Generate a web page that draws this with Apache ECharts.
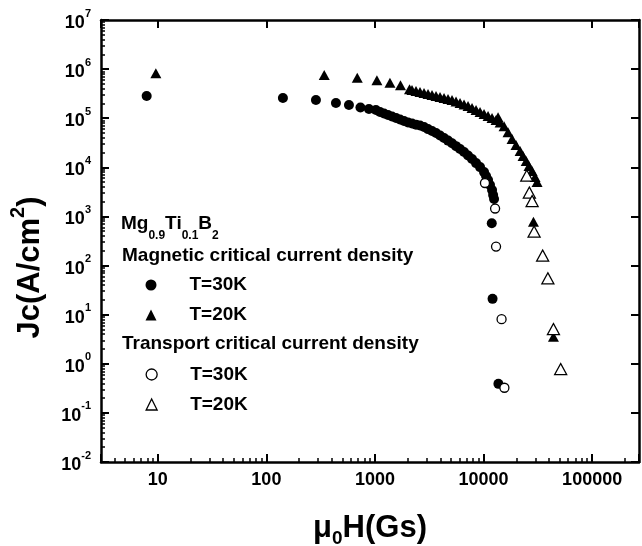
<!DOCTYPE html>
<html lang="en">
<head>
    <meta charset="UTF-8">
    <title>Jc vs field</title>
    <script src="https://cdn.jsdelivr.net/npm/echarts@6/dist/echarts.min.js"></script>
    <style>html,body{margin:0;padding:0;background:#fff;}</style>
</head>
<body>
    <div id="chart" style="width:642px;height:546px;"></div>
    <script type="text/javascript">
        var FONT = 'Liberation Sans, Arial, sans-serif';

        // axis ranges (Gs, A/cm2)
        var xRange = [3, 270000];
        var yRange = [0.01, 1e7];

        // magnetic Jc, T=30K (filled circles)
        var mag30K = [
            [7.9, 2.83e5], [142, 2.58e5], [286, 2.35e5], [437, 2.04e5], [576, 1.86e5],
            [735, 1.65e5], [880, 1.54e5], [1020, 1.47e5], [1112, 1.34e5], [1211, 1.25e5],
            [1318, 1.16e5], [1435, 1.08e5], [1563, 1.01e5], [1700, 9.4e4], [1850, 8.8e4],
            [2014, 8.2e4], [2193, 7.8e4], [2387, 7.4e4], [2598, 7.1e4], [2830, 6.6e4],
            [3080, 6.0e4], [3353, 5.5e4], [3650, 5.0e4], [3973, 4.45e4], [4325, 3.95e4],
            [4707, 3.5e4], [5124, 3.1e4], [5578, 2.7e4], [6072, 2.36e4], [6610, 2.05e4],
            [7195, 1.74e4], [7832, 1.48e4], [8525, 1.22e4], [9280, 1.01e4], [10100, 8000],
            [10540, 6650], [11000, 5500], [11470, 4360], [11970, 3450], [12250, 2730],
            [12490, 2260], [11900, 724], [12100, 21], [13700, 0.39]
        ];

        // magnetic Jc, T=20K (filled triangles)
        var mag20K = [
            [9.6, 8.2e5], [341, 7.6e5], [687, 6.7e5], [1042, 5.9e5], [1374, 5.3e5],
            [1718, 4.7e5], [2080, 3.9e5], [2193, 3.75e5], [2387, 3.58e5], [2598, 3.42e5],
            [2830, 3.26e5], [3080, 3.11e5], [3353, 2.97e5], [3650, 2.83e5], [3973, 2.70e5],
            [4325, 2.58e5], [4707, 2.46e5], [5124, 2.35e5], [5578, 2.19e5], [6072, 2.04e5],
            [6610, 1.90e5], [7195, 1.77e5], [7832, 1.61e5], [8525, 1.47e5], [9280, 1.34e5],
            [10100, 1.22e5], [11000, 1.11e5], [11970, 1.01e5], [13030, 9.2e4], [13600, 1.05e5],
            [14200, 8.2e4], [15450, 6.9e4], [16800, 5.2e4], [18300, 3.77e4], [19900, 2.84e4],
            [21700, 2.15e4], [23100, 1.70e4], [24700, 1.34e4], [26200, 1.06e4], [28000, 8400],
            [29800, 6340], [31100, 5020], [28800, 780], [44000, 3.55]
        ];

        // transport Jc, T=30K (open circles)
        var tr30K = [
            [10300, 4800], [12770, 1450], [13030, 244], [14650, 8.1], [15560, 0.325]
        ];

        // transport Jc, T=20K (open triangles)
        var tr20K = [
            [25000, 6800], [26400, 3070], [28000, 2060], [29200, 492], [35000, 160],
            [39100, 55], [44000, 5.1], [51300, 0.78]
        ];

        var seriesNames = ['Magnetic T=30K', 'Magnetic T=20K', 'Transport T=30K', 'Transport T=20K'];

        function isDecade(v) {
            var e = Math.log(v) / Math.LN10;
            return Math.abs(e - Math.round(e)) < 1e-6;
        }

        var chart = echarts.init(document.getElementById('chart'));

        var axisLine = {show: true, onZero: false, lineStyle: {color: '#000', width: 2.5}};

        function baseX(pos, labels) {
            return {
                type: 'log', logBase: 10, position: pos,
                min: xRange[0], max: xRange[1],
                axisLine: axisLine,
                axisTick: {show: true, inside: true, length: 8, lineStyle: {color: '#000', width: 2}},
                minorTick: {show: labels, splitNumber: 9, length: 4, lineStyle: {color: '#000', width: 1.5}},
                splitLine: {show: false},
                axisLabel: {
                    show: labels, margin: 9, fontSize: 18, fontFamily: FONT, fontWeight: 'bold', color: '#000',
                    formatter: function (v) { return isDecade(v) ? String(Math.round(v)) : ''; }
                }
            };
        }

        function baseY(pos, labels) {
            return {
                type: 'log', logBase: 10, position: pos,
                min: yRange[0], max: yRange[1], splitNumber: 9,
                axisLine: axisLine,
                axisTick: {show: true, inside: true, length: 8, lineStyle: {color: '#000', width: 2}},
                minorTick: {show: labels, splitNumber: 9, length: 4, lineStyle: {color: '#000', width: 1.5}},
                splitLine: {show: false},
                axisLabel: {
                    show: labels, margin: 10,
                    formatter: function (v) {
                        var e = Math.round(Math.log(v) / Math.LN10);
                        return '{b|10}{s|' + e + '}';
                    },
                    rich: {
                        b: {fontSize: 18, fontFamily: FONT, fontWeight: 'bold', color: '#000', lineHeight: 24, verticalAlign: 'bottom'},
                        s: {fontSize: 11, fontFamily: FONT, fontWeight: 'bold', color: '#000', lineHeight: 14, verticalAlign: 'top'}
                    }
                }
            };
        }

        function legendBox(top, names) {
            return {
                orient: 'vertical', left: 145.5, top: top, padding: 0,
                itemWidth: 11, itemHeight: 11, itemGap: 10, selectedMode: false,
                textStyle: {fontSize: 19, fontFamily: FONT, fontWeight: 'bold', color: '#000', lineHeight: 20, padding: [0, 0, 0, 28]},
                formatter: function (name) { return name.split(' ')[1]; },
                data: names
            };
        }

        var filled = {color: '#000', opacity: 1};
        var hollow = {color: '#fff', borderColor: '#000', borderWidth: 1.3, opacity: 1};

        chart.setOption({
            animation: false,
            backgroundColor: '#fff',
            grid: {left: 101, right: 3, top: 20, bottom: 84},
            xAxis: [baseX('bottom', true), baseX('top', false)],
            yAxis: [baseY('left', true), baseY('right', false)],
            legend: [
                legendBox(275, [
                    {name: seriesNames[0], icon: 'circle', itemStyle: filled},
                    {name: seriesNames[1], icon: 'triangle', itemStyle: filled}
                ]),
                legendBox(364.5, [
                    {name: seriesNames[2], icon: 'circle', itemStyle: hollow},
                    {name: seriesNames[3], icon: 'triangle', itemStyle: hollow}
                ])
            ],
            graphic: [
                {
                    type: 'text', x: 121, y: 214,
                    style: {
                        text: '{m|Mg}{s|0.9}{m|Ti}{s|0.1}{m|B}{s|2}', align: 'left', verticalAlign: 'top',
                        rich: {
                            m: {fontSize: 19, fontFamily: FONT, fontWeight: 'bold', fill: '#000', lineHeight: 22, verticalAlign: 'top'},
                            s: {fontSize: 12, fontFamily: FONT, fontWeight: 'bold', fill: '#000', lineHeight: 12, verticalAlign: 'top', padding: [16, 0, 0, 0]}
                        }
                    }
                },
                {
                    type: 'text', x: 122, y: 256,
                    style: {text: 'Magnetic critical current density', font: 'bold 19px ' + FONT, fill: '#000', align: 'left', verticalAlign: 'middle'}
                },
                {
                    type: 'text', x: 122, y: 343.5,
                    style: {text: 'Transport critical current density', font: 'bold 19px ' + FONT, fill: '#000', align: 'left', verticalAlign: 'middle'}
                },
                {
                    type: 'text', x: 370, y: 513,
                    style: {
                        text: '{m|\u03bc}{s|0}{m|H(Gs)}', align: 'center', verticalAlign: 'top',
                        rich: {
                            m: {fontSize: 31, fontFamily: FONT, fontWeight: 'bold', fill: '#000', lineHeight: 34, verticalAlign: 'top'},
                            s: {fontSize: 19, fontFamily: FONT, fontWeight: 'bold', fill: '#000', lineHeight: 19, verticalAlign: 'top', padding: [16.5, 0, 0, 0]}
                        }
                    }
                },
                {
                    type: 'text', x: 25, y: 267.5, rotation: Math.PI / 2,
                    style: {
                        text: '{m|Jc(A/cm}{s|2}{m|)}', align: 'center', verticalAlign: 'middle',
                        rich: {
                            m: {fontSize: 31, fontFamily: FONT, fontWeight: 'bold', fill: '#000', lineHeight: 34, verticalAlign: 'top', padding: [6.5, 0, 0, 0]},
                            s: {fontSize: 20, fontFamily: FONT, fontWeight: 'bold', fill: '#000', lineHeight: 20, verticalAlign: 'top'}
                        }
                    }
                }
            ],
            series: [
                {name: seriesNames[0], type: 'scatter', data: mag30K, symbol: 'circle', symbolSize: 10, itemStyle: filled},
                {name: seriesNames[1], type: 'scatter', data: mag20K, symbol: 'triangle', symbolSize: [11, 10], itemStyle: filled},
                {name: seriesNames[2], type: 'scatter', data: tr30K, symbol: 'circle', symbolSize: 9, itemStyle: hollow},
                {name: seriesNames[3], type: 'scatter', data: tr20K, symbol: 'triangle', symbolSize: [12, 11], itemStyle: hollow}
            ]
        });
    </script>
</body>
</html>
